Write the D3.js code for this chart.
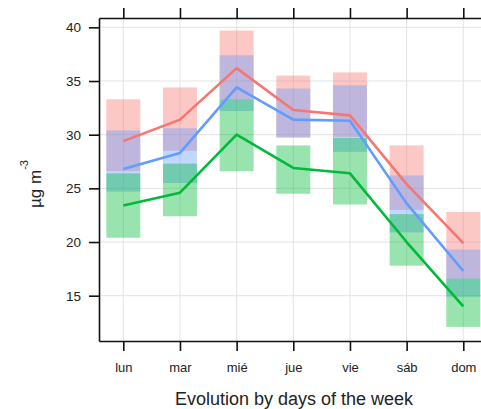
<!DOCTYPE html>
<html>
<head>
<meta charset="utf-8">
<script src="https://cdn.jsdelivr.net/npm/d3@7"></script>
<style>
  html, body { margin: 0; padding: 0; background: #fff; }
  svg { display: block; }
  text { font-family: "Liberation Sans", Arial, sans-serif; }
</style>
</head>
<body>
<div id="chart"></div>
<script>
// ---- data ----
const days = ["lun", "mar", "mié", "jue", "vie", "sáb", "dom"];
const yTicks = [15, 20, 25, 30, 35, 40];

const redMean  = [29.4, 31.4, 36.2, 32.3, 31.8, 25.4, 19.9];
const redLow   = [26.6, 28.5, 33.3, 29.8, 29.8, 23.0, 16.6];
const redHigh  = [33.3, 34.4, 39.7, 35.5, 35.8, 29.0, 22.8];

const blueMean = [26.8, 28.3, 34.4, 31.4, 31.3, 23.6, 17.3];
const blueLow  = [24.7, 25.5, 32.2, 29.7, 28.4, 20.9, 14.9];
const blueHigh = [30.4, 30.6, 37.4, 34.3, 34.6, 26.2, 19.3];

const greenMean = [23.4, 24.6, 30.0, 26.9, 26.4, 20.0, 14.0];
const greenLow  = [20.4, 22.4, 26.6, 24.5, 23.5, 17.8, 12.1];
const greenHigh = [26.4, 27.3, 33.3, 29.0, 29.7, 22.6, 16.6];

const seriesColors = ["#F8766D", "#619CFF", "#00BA38"];
const xTitle = "Evolution by days of the week";

const series = [
  { mean: redMean,   low: redLow,   high: redHigh,   color: seriesColors[0] },
  { mean: blueMean,  low: blueLow,  high: blueHigh,  color: seriesColors[1] },
  { mean: greenMean, low: greenLow, high: greenHigh, color: seriesColors[2] }
];

// ---- layout ----
const W = 481, H = 409;
const mLeft = 99, mTop = 18, mBottom = 341, mRight = 487.6;

const svg = d3.select("#chart").append("svg").attr("width", W).attr("height", H);

const x = d3.scaleLinear().domain([0.571, 7.429]).range([mLeft, mRight]);
const y = d3.scaleLinear().domain([10.78, 40.87]).range([mBottom, mTop]);
const halfW = 0.3;

// grid
const grid = svg.append("g");
grid.selectAll("line.v").data(days).join("line").attr("class", "v")
  .attr("x1", (d, i) => x(i + 1)).attr("x2", (d, i) => x(i + 1))
  .attr("y1", mTop).attr("y2", mBottom)
  .attr("stroke", "#e3e3e3").attr("stroke-width", 1);
grid.selectAll("line.h").data(yTicks).join("line").attr("class", "h")
  .attr("x1", mLeft).attr("x2", mRight)
  .attr("y1", d => y(d)).attr("y2", d => y(d))
  .attr("stroke", "#e3e3e3").attr("stroke-width", 1);

// CI bars
series.forEach(s => {
  svg.append("g").selectAll("rect").data(days).join("rect")
    .attr("x", (d, i) => x(i + 1 - halfW))
    .attr("width", (d, i) => x(i + 1 + halfW) - x(i + 1 - halfW))
    .attr("y", (d, i) => y(s.high[i]))
    .attr("height", (d, i) => y(s.low[i]) - y(s.high[i]))
    .attr("fill", s.color).attr("fill-opacity", 0.4);
});

// mean lines
const line = d3.line().x((d, i) => x(i + 1)).y(d => y(d));
series.forEach(s => {
  svg.append("path").datum(s.mean)
    .attr("d", line)
    .attr("fill", "none")
    .attr("stroke", s.color)
    .attr("stroke-width", 2.6)
    .attr("stroke-linejoin", "round");
});

// axes
const axisColor = "#111";
const dayIdx = days.map((d, i) => i + 1);
const xAxisB = d3.axisBottom(x).tickValues(dayIdx).tickFormat(d => days[d - 1])
  .tickSize(10).tickSizeOuter(0).tickPadding(12);
const xAxisT = d3.axisTop(x).tickValues(dayIdx).tickFormat("")
  .tickSize(10).tickSizeOuter(0);
const yAxisL = d3.axisLeft(y).tickValues(yTicks).tickFormat(d3.format("d"))
  .tickSize(10).tickSizeOuter(0).tickPadding(8);

function styleAxis(g, fs) {
  g.selectAll("path.domain").attr("stroke", axisColor).attr("stroke-width", 1.6);
  g.selectAll(".tick line").attr("stroke", axisColor).attr("stroke-width", 1.6);
  g.selectAll(".tick text").attr("fill", "#222").style("font-size", fs + "px")
    .style("font-family", "'Liberation Sans', Arial, sans-serif");
}
svg.append("g").attr("transform", `translate(0,${mBottom})`).call(xAxisB).call(g => styleAxis(g, 13));
svg.append("g").attr("transform", `translate(0,${mTop})`).call(xAxisT).call(g => styleAxis(g, 13));
svg.append("g").attr("transform", `translate(${mLeft},0)`).call(yAxisL).call(g => styleAxis(g, 13.5));

// x title
svg.append("text")
  .attr("x", 294).attr("y", 405)
  .attr("text-anchor", "middle")
  .attr("fill", "#222")
  .style("font-size", "18px")
  .text(xTitle);

// y title: µg m^-3
const yt = svg.append("text")
  .attr("transform", "translate(41,208) rotate(-90)")
  .attr("fill", "#222")
  .style("font-size", "17px");
yt.append("tspan").text("µg m");
yt.append("tspan").attr("dy", -13).style("font-size", "11px").text("-3");
</script>
</body>
</html>
